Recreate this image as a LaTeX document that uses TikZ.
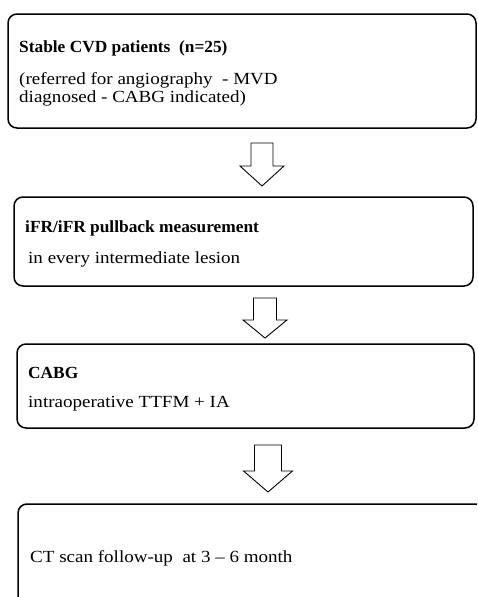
\documentclass[tikz,border=0pt]{standalone}
\usepackage{fontspec}
\setmainfont{Liberation Serif}[FakeStretch=1.12]
\newfontfamily\headfont{Liberation Serif}[FakeStretch=1.02]
\begin{document}
\begin{tikzpicture}[x=1pt,y=-1pt,
  flowbox/.style={draw=black, line width=1.5pt, rounded corners=9pt},
  label/.style={anchor=base west, inner sep=0pt, font=\fontsize{17}{19}\selectfont},
  boldlabel/.style={label, font=\fontsize{17}{19}\selectfont\headfont\bfseries},
  blockarrow/.style={draw=black, line width=0.9pt, fill=white, line join=miter}]
\clip (0,0) rectangle (477,597);

% boxes
\draw[flowbox] (8,14) rectangle (476,128);
\coordinate (b1) at (8,14);
\draw[flowbox] (14,197) rectangle (473,286);
\coordinate (b2) at (14,197);
\draw[flowbox] (17,344) rectangle (474,428);
\coordinate (b3) at (17,344);
\draw[flowbox] (18,504) rectangle (500,640);
\coordinate (b4) at (18,504);

% texts
\node[boldlabel] (t1a) at (19,52) {Stable CVD patients\ \ (n=25)};
\node[label] (t1b) at (19,84) {(referred for angiography\ \ - MVD};
\node[label] (t1c) at (19,102) {diagnosed - CABG indicated)};
\node[boldlabel] (t2a) at (25,232) {iFR/iFR pullback measurement};
\node[label] (t2b) at (28,263) {in every intermediate lesion};
\node[boldlabel] (t3a) at (28,378) {CABG};
\node[label] (t3b) at (28,407) {intraoperative TTFM + IA};
\node[label] (t4a) at (30,562) {CT scan follow-up\ \ at 3 -- 6 month};

% hollow block arrows: centre x, top, head start, tip, shaft half width, head half width
\newcommand\hollowarrow[6]{%
  \draw[blockarrow] (#1-#5,#2) -- (#1+#5,#2) -- (#1+#5,#3) -- (#1+#6,#3)
    -- (#1,#4) -- (#1-#6,#3) -- (#1-#5,#3) -- cycle;}
\hollowarrow{262}{143}{166}{186}{11}{22}
\hollowarrow{265}{298}{320}{338}{11.5}{22}
\hollowarrow{268}{445}{471}{492}{13.5}{24.5}
\end{tikzpicture}
\end{document}
